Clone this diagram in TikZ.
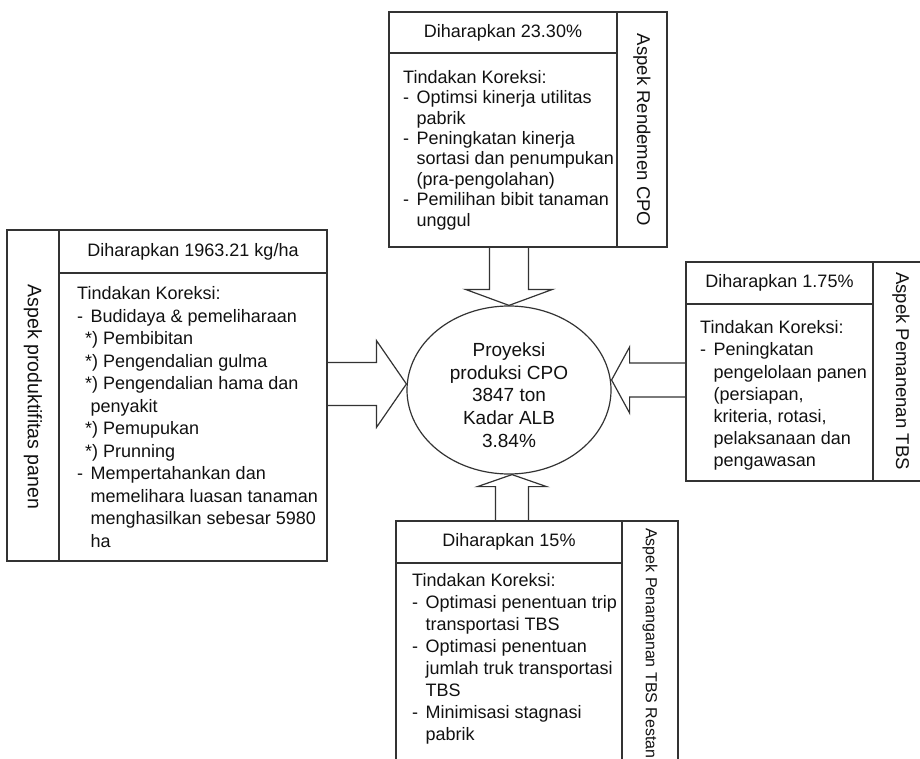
\documentclass[tikz,border=0pt]{standalone}
\usepackage{fontspec}
\setmainfont{Liberation Sans}
\usetikzlibrary{calc,shapes.geometric}
\definecolor{linec}{HTML}{333333}
\definecolor{txtc}{HTML}{111111}
\newcommand{\itm}{\makebox[13.5pt][l]{-}}
\newcommand{\ind}{\hspace*{13.5pt}}
\newcommand{\sub}{\hspace*{8pt}}
\begin{document}
\begin{tikzpicture}[x=1pt,y=-1pt,
  frame/.style={draw=linec, line width=1.2pt, rectangle, inner sep=0pt},
  rule/.style={draw=linec, line width=1.2pt},
  hdr/.style={font=\fontsize{18}{20}\selectfont, text=txtc, inner sep=0pt},
  body/.style={align=left, anchor=north west, inner sep=0pt, text=txtc},
  side/.style={rotate=-90, inner sep=0pt, text=txtc},
  blockarrow/.style={draw=linec, line width=1.2pt, line join=miter}
]
\useasboundingbox (0,0) rectangle (920,759);
\clip (0,0) rectangle (920,759);

% central projection
\node[ellipse, draw=linec, line width=1.2pt, minimum width=204, minimum height=168, inner sep=0pt] (core) at (509,390) {};
\node[align=center, inner sep=0pt, text=txtc, font=\fontsize{19}{22.7}\selectfont] (coretext) at ($(core.center)+(0,5)$)
  {Proyeksi\\produksi CPO\\3847 ton\\Kadar ALB\\3.84\%};

% top block: rendemen
\node[frame, minimum width=278, minimum height=235] (rbox) at (528,129.5) {};
\draw[rule] (617,12) -- (617,247);
\draw[rule] (389,53) -- (617,53);
\node[hdr] (rhead) at (503,32.5) {Diharapkan 23.30\%};
\node[body, font=\fontsize{18}{20.4}\selectfont] (rbody) at (403,70)
  {Tindakan Koreksi:\\
   \itm Optimsi kinerja utilitas\\
   \ind pabrik\\
   \itm Peningkatan kinerja\\
   \ind sortasi dan penumpukan\\
   \ind (pra-pengolahan)\\
   \itm Pemilihan bibit tanaman\\
   \ind unggul};
\node[side, font=\fontsize{18.5}{20}\selectfont] (rside) at (642,130) {Aspek Rendemen CPO};

% left block: produktifitas
\node[frame, minimum width=320, minimum height=331] (pbox) at (167,395.5) {};
\draw[rule] (59,230) -- (59,561);
\draw[rule] (59,273) -- (327,273);
\node[hdr] (phead) at (193,251.5) {Diharapkan 1963.21 kg/ha};
\node[body, font=\fontsize{18}{22.5}\selectfont] (pbody) at (77,286.5)
  {Tindakan Koreksi:\\
   \itm Budidaya \& pemeliharaan\\
   \sub *) Pembibitan\\
   \sub *) Pengendalian gulma\\
   \sub *) Pengendalian hama dan\\
   \ind penyakit\\
   \sub *) Pemupukan\\
   \sub *) Prunning\\
   \itm Mempertahankan dan\\
   \ind memelihara luasan tanaman\\
   \ind menghasilkan sebesar 5980\\
   \ind ha};
\node[side, font=\fontsize{19.5}{20}\selectfont] (pside) at (33,397) {Aspek produktifitas panen};

% right block: pemanenan
\node[frame, minimum width=243, minimum height=219] (hbox) at (807.5,371.5) {};
\draw[rule] (873,262) -- (873,481);
\draw[rule] (686,304) -- (873,304);
\node[hdr] (hhead) at (779.5,283) {Diharapkan 1.75\%};
\node[body, font=\fontsize{18}{22.2}\selectfont] (hbody) at (700,320.5)
  {Tindakan Koreksi:\\
   \itm Peningkatan\\
   \ind pengelolaan panen\\
   \ind (persiapan,\\
   \ind kriteria, rotasi,\\
   \ind pelaksanaan dan\\
   \ind pengawasan};
\node[side, font=\fontsize{18.5}{20}\selectfont] (hside) at (901,371) {Aspek Pemanenan TBS};

% bottom block: penanganan restan
\node[frame, minimum width=282, minimum height=254] (tbox) at (537,648) {};
\draw[rule] (622,521) -- (622,775);
\draw[rule] (396,563) -- (622,563);
\node[hdr] (thead) at (509,542) {Diharapkan 15\%};
\node[body, font=\fontsize{18}{21.9}\selectfont] (tbody) at (412,573.5)
  {Tindakan Koreksi:\\
   \itm Optimasi penentuan trip\\
   \ind transportasi TBS\\
   \itm Optimasi penentuan\\
   \ind jumlah truk transportasi\\
   \ind TBS\\
   \itm Minimisasi stagnasi\\
   \ind pabrik};
\node[side, font=\fontsize{16}{20}\selectfont, anchor=west] (tside) at (650,528) {Aspek Penanganan TBS Restan};

% block arrows into the projection
\coordinate (ttip) at (core.north);
\coordinate (tbase) at (core.north |- rbox.south);
\draw[blockarrow] ($(tbase)+(-19.5,0)$) -- ($(ttip)+(-19.5,-16)$) -- ($(ttip)+(-43.5,-16)$)
  -- (ttip) -- ($(ttip)+(43.5,-16)$) -- ($(ttip)+(19.5,-16)$) -- ($(tbase)+(19.5,0)$);

\coordinate (ltip) at ($(core.west)+(0,-6)$);
\coordinate (lbase) at (ltip -| pbox.east);
\draw[blockarrow] ($(lbase)+(0,-21.5)$) -- ($(ltip)+(-30,-21.5)$) -- ($(ltip)+(-30,-43.5)$)
  -- (ltip) -- ($(ltip)+(-30,43.5)$) -- ($(ltip)+(-30,21.5)$) -- ($(lbase)+(0,21.5)$);

\coordinate (htip) at ($(core.east)+(0,-10)$);
\coordinate (hbase) at (htip -| hbox.west);
\draw[blockarrow] ($(hbase)+(0,-17)$) -- ($(htip)+(18,-17)$) -- ($(htip)+(18,-33)$)
  -- (htip) -- ($(htip)+(18,33)$) -- ($(htip)+(18,17)$) -- ($(hbase)+(0,17)$);

\coordinate (btip) at ($(core.south)+(3,0)$);
\coordinate (bbase) at (btip |- tbox.north);
\draw[blockarrow] ($(bbase)+(-16.5,0)$) -- ($(btip)+(-16.5,12)$) -- ($(btip)+(-34.5,12)$)
  -- (btip) -- ($(btip)+(34.5,12)$) -- ($(btip)+(16.5,12)$) -- ($(bbase)+(16.5,0)$);
\end{tikzpicture}
\end{document}
